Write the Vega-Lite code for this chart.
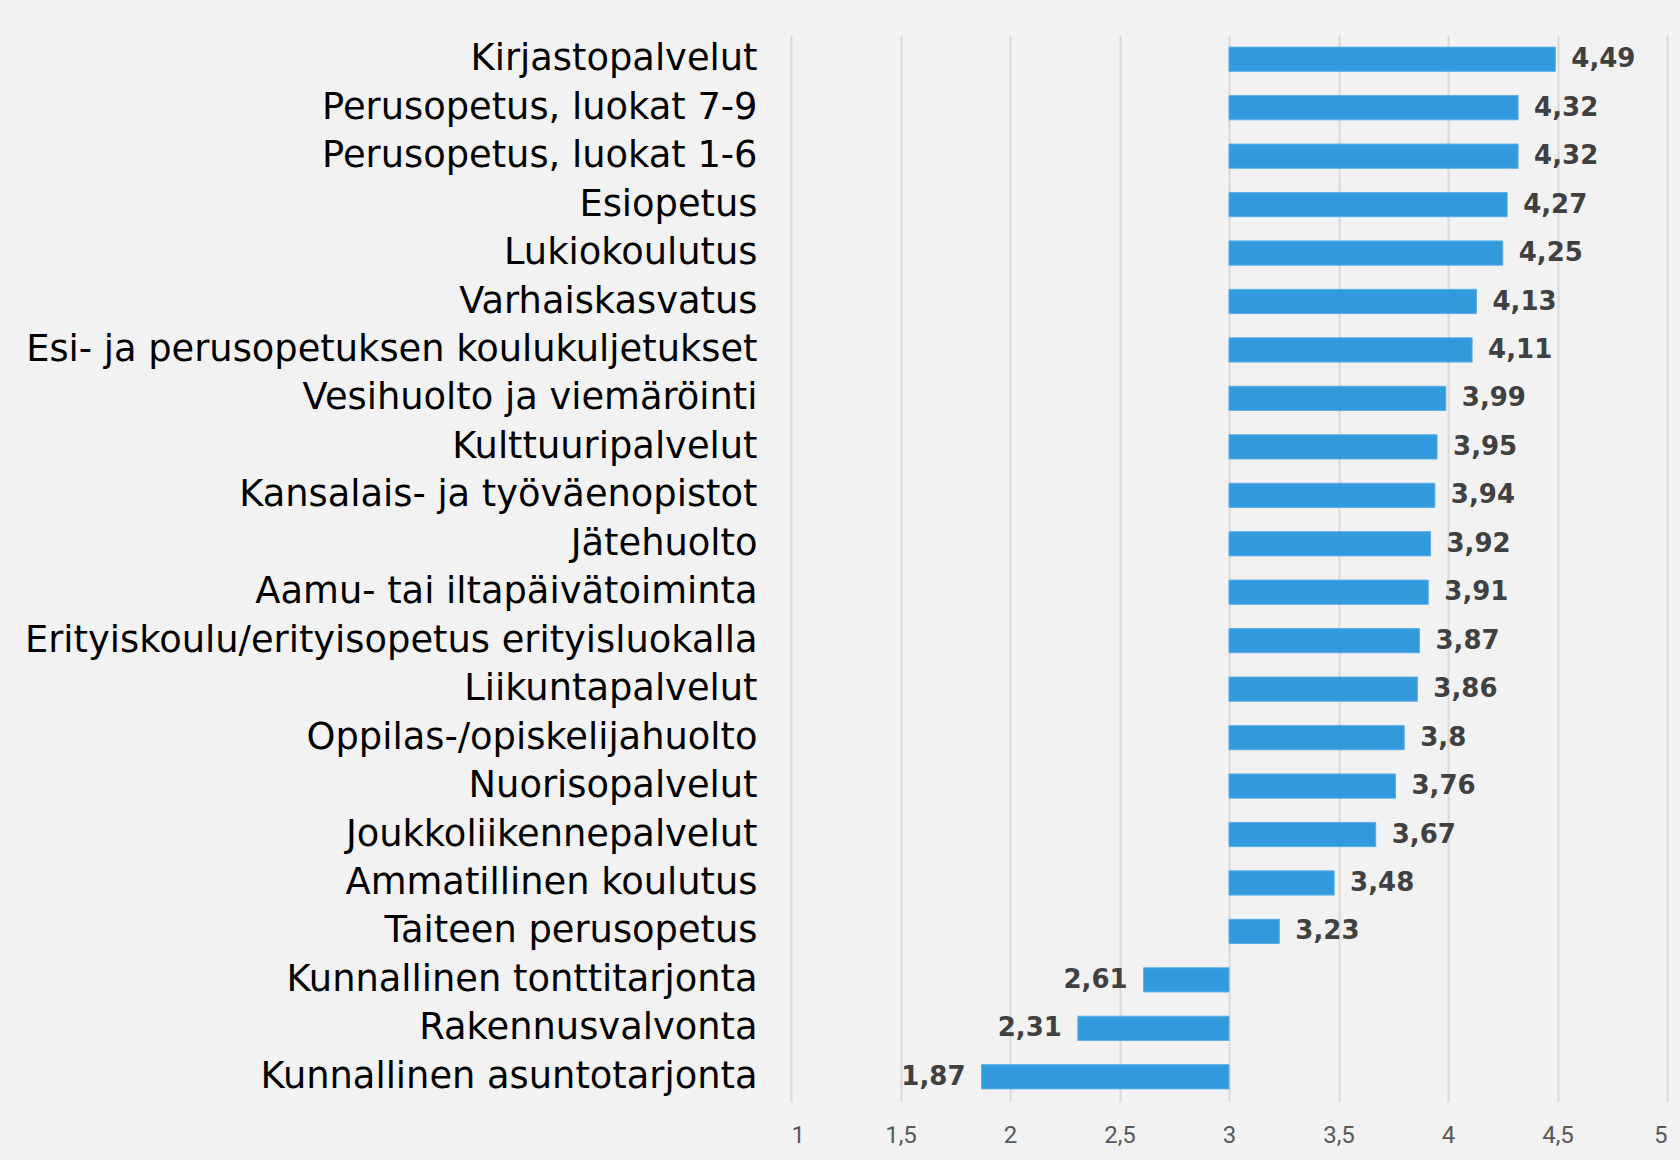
{
  "$schema": "https://vega.github.io/schema/vega-lite/v6.json",
  "width": 876,
  "height": 1066,
  "autosize": {"type": "none"},
  "padding": {"left": 791, "top": 35, "right": 13, "bottom": 59},
  "background": "#f2f2f2",
  "config": {
    "view": {"stroke": null},
    "locale": {"number": {"decimal": ",", "thousands": " ", "grouping": [3], "currency": ["", " €"]}}
  },
  "data": {"values": [
    {"palvelu": "Kirjastopalvelut", "arvo": 4.49},
    {"palvelu": "Perusopetus, luokat 7-9", "arvo": 4.32},
    {"palvelu": "Perusopetus, luokat 1-6", "arvo": 4.32},
    {"palvelu": "Esiopetus", "arvo": 4.27},
    {"palvelu": "Lukiokoulutus", "arvo": 4.25},
    {"palvelu": "Varhaiskasvatus", "arvo": 4.13},
    {"palvelu": "Esi- ja perusopetuksen koulukuljetukset", "arvo": 4.11},
    {"palvelu": "Vesihuolto ja viemäröinti", "arvo": 3.99},
    {"palvelu": "Kulttuuripalvelut", "arvo": 3.95},
    {"palvelu": "Kansalais- ja työväenopistot", "arvo": 3.94},
    {"palvelu": "Jätehuolto", "arvo": 3.92},
    {"palvelu": "Aamu- tai iltapäivätoiminta", "arvo": 3.91},
    {"palvelu": "Erityiskoulu/erityisopetus erityisluokalla", "arvo": 3.87},
    {"palvelu": "Liikuntapalvelut", "arvo": 3.86},
    {"palvelu": "Oppilas-/opiskelijahuolto", "arvo": 3.8},
    {"palvelu": "Nuorisopalvelut", "arvo": 3.76},
    {"palvelu": "Joukkoliikennepalvelut", "arvo": 3.67},
    {"palvelu": "Ammatillinen koulutus", "arvo": 3.48},
    {"palvelu": "Taiteen perusopetus", "arvo": 3.23},
    {"palvelu": "Kunnallinen tonttitarjonta", "arvo": 2.61},
    {"palvelu": "Rakennusvalvonta", "arvo": 2.31},
    {"palvelu": "Kunnallinen asuntotarjonta", "arvo": 1.87}
  ]},
  "encoding": {
    "y": {
      "field": "palvelu", "type": "nominal", "sort": null, "title": null,
      "scale": {"paddingInner": 0.5, "paddingOuter": 0.25},
      "axis": {"domain": false, "ticks": false, "labelPadding": 34, "labelFont": "DejaVu Sans", "labelFontSize": 36.8, "labelColor": "#000000", "labelLimit": 0, "grid": false}
    }
  },
  "layer": [
    {
      "mark": {"type": "bar", "color": "#3399dd", "stroke": "#5aaee6", "strokeWidth": 1},
      "encoding": {
        "x": {
          "field": "arvo", "type": "quantitative", "title": null,
          "scale": {"domain": [1, 5], "nice": false, "zero": false},
          "axis": {"values": [1, 1.5, 2, 2.5, 3, 3.5, 4, 4.5, 5], "format": "~g", "domain": false, "ticks": false, "grid": true, "gridColor": "#d9d9d9", "gridWidth": 2, "labelPadding": 22, "labelFont": "Roboto", "labelFontSize": 24, "labelColor": "#595959"}
        },
        "x2": {"datum": 3}
      }
    },
    {
      "transform": [{"filter": "datum.arvo >= 3"}],
      "mark": {"type": "text", "align": "left", "baseline": "middle", "dx": 16, "font": "DejaVu Sans", "fontWeight": "bold", "fontSize": 26, "color": "#404040"},
      "encoding": {
        "x": {"field": "arvo", "type": "quantitative"},
        "text": {"field": "arvo", "type": "quantitative", "format": "~g"}
      }
    },
    {
      "transform": [{"filter": "datum.arvo < 3"}],
      "mark": {"type": "text", "align": "right", "baseline": "middle", "dx": -16, "font": "DejaVu Sans", "fontWeight": "bold", "fontSize": 26, "color": "#404040"},
      "encoding": {
        "x": {"field": "arvo", "type": "quantitative"},
        "text": {"field": "arvo", "type": "quantitative", "format": "~g"}
      }
    }
  ]
}
